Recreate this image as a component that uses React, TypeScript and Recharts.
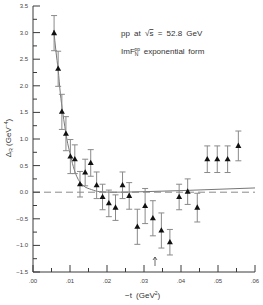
import React from 'react';
import { ComposedChart, Scatter, Line, XAxis, YAxis, ReferenceLine, ErrorBar } from 'recharts';

// measured points: -t (GeV^2), Delta_R (GeV^-4), error
const tValues = [0.0057, 0.0068, 0.0078, 0.0089, 0.0101, 0.0113, 0.0127, 0.0141, 0.0156, 0.0172, 0.0188, 0.0205, 0.0223, 0.0242, 0.026, 0.0282, 0.0303, 0.0324, 0.0347, 0.037, 0.0395, 0.0418, 0.0444, 0.0471, 0.0498, 0.0526, 0.0555];
const deltaValues = [2.99, 2.32, 1.51, 1.1, 0.67, 0.62, 0.15, 0.37, 0.55, 0.13, -0.09, -0.21, -0.29, 0.13, -0.07, -0.65, -0.26, -0.49, -0.72, -0.94, -0.09, 0.01, -0.29, 0.62, 0.62, 0.62, 0.87];
const errValues = [0.33, 0.33, 0.33, 0.32, 0.32, 0.27, 0.24, 0.25, 0.25, 0.25, 0.24, 0.25, 0.24, 0.25, 0.25, 0.33, 0.33, 0.33, 0.33, 0.24, 0.24, 0.24, 0.27, 0.25, 0.25, 0.25, 0.28];

// exponential-form curve
const fitT = [0.0056, 0.0062, 0.0068, 0.0074, 0.008, 0.0086, 0.0092, 0.01, 0.0109, 0.0118, 0.0135, 0.0158, 0.018, 0.022, 0.03, 0.04, 0.05, 0.06];
const fitDelta = [3.05, 2.65, 2.3, 1.85, 1.52, 1.23, 0.98, 0.73, 0.48, 0.3, 0.13, 0.05, 0.01, 0.0, 0.01, 0.03, 0.055, 0.08];

const xTicks = [0, 0.005, 0.01, 0.015, 0.02, 0.025, 0.03, 0.035, 0.04, 0.045, 0.05, 0.055, 0.06];
const xTickLabels: Record<string, string> = { '0': '.00', '0.01': '.01', '0.02': '.02', '0.03': '.03', '0.04': '.04', '0.05': '.05', '0.06': '.06' };
const yTicks = [-1.5, -1.25, -1, -0.75, -0.5, -0.25, 0, 0.25, 0.5, 0.75, 1, 1.25, 1.5, 1.75, 2, 2.25, 2.5, 2.75, 3, 3.25, 3.5];
const yTickLabels: Record<string, string> = { '-1.5': '−1.5', '-1': '−1.0', '-0.5': '−0.5', '0': '0.0', '0.5': '0.5', '1': '1.0', '1.5': '1.5', '2': '2.0', '2.5': '2.5', '3': '3.0', '3.5': '3.5' };

const points = tValues.map((t, i) => ({ t, v: deltaValues[i], err: errValues[i] }));
const fit = fitT.map((t, i) => ({ t, v: fitDelta[i] }));

const AXIS = '#3a3a3a';
const GRAY = '#8a8a8a';
const FONT = '"Liberation Sans", Arial, sans-serif';

const key = (v: number) => String(Math.round(v * 1000) / 1000);

const BottomTick = ({ x, y, payload }: any) => {
  const label = xTickLabels[key(payload.value)];
  const len = label ? 7 : 4;
  return (
    <g>
      <line x1={x} y1={y} x2={x} y2={y - len} stroke={AXIS} />
      {label && (
        <text x={x} y={y + 11} textAnchor="middle" fontSize={6} fill="#444" fontFamily={FONT}>{label}</text>
      )}
    </g>
  );
};

const TopTick = ({ x, y, payload }: any) => {
  const len = xTickLabels[key(payload.value)] ? 7 : 4;
  return <line x1={x} y1={y} x2={x} y2={y + len} stroke={AXIS} />;
};

const LeftTick = ({ x, y, payload }: any) => {
  const label = yTickLabels[key(payload.value)];
  const len = label ? 7 : 4;
  return (
    <g>
      <line x1={x} y1={y} x2={x + len} y2={y} stroke={AXIS} />
      {label && (
        <text x={x - 5} y={y + 2} textAnchor="end" fontSize={6} fill="#444" fontFamily={FONT}>{label}</text>
      )}
    </g>
  );
};

const RightTick = ({ x, y, payload }: any) => {
  const len = yTickLabels[key(payload.value)] ? 7 : 4;
  return <line x1={x} y1={y} x2={x - len} y2={y} stroke={AXIS} />;
};

const Triangle = ({ cx, cy }: any) => (
  <polygon points={`${cx},${cy - 3.3} ${cx - 3},${cy + 2} ${cx + 3},${cy + 2}`} fill="#111" />
);

export default function App() {
  return (
    <div style={{ position: 'absolute', left: 0, top: 0, width: 263, height: 305, background: '#fff' }}>
      <ComposedChart width={263} height={305} data={points} margin={{ top: 6, right: 8, bottom: 13, left: 5 }}>
        <XAxis
          xAxisId="b"
          dataKey="t"
          type="number"
          domain={[0, 0.06]}
          ticks={xTicks}
          allowDataOverflow
          height={20}
          tickSize={0}
          tickMargin={0}
          tickLine={false}
          stroke={AXIS}
          tick={<BottomTick />}
          interval={0}
        />
        <XAxis
          xAxisId="top"
          orientation="top"
          dataKey="t"
          type="number"
          domain={[0, 0.06]}
          ticks={xTicks}
          height={0}
          tickSize={0}
          tickMargin={0}
          tickLine={false}
          stroke={AXIS}
          tick={<TopTick />}
          interval={0}
        />
        <YAxis
          yAxisId="l"
          type="number"
          domain={[-1.5, 3.5]}
          ticks={yTicks}
          allowDataOverflow
          width={28}
          tickSize={0}
          tickMargin={0}
          tickLine={false}
          stroke={AXIS}
          tick={<LeftTick />}
          interval={0}
        />
        <YAxis
          yAxisId="r"
          orientation="right"
          type="number"
          domain={[-1.5, 3.5]}
          ticks={yTicks}
          width={0}
          tickSize={0}
          tickMargin={0}
          tickLine={false}
          stroke={AXIS}
          tick={<RightTick />}
          interval={0}
        />
        <ReferenceLine xAxisId="b" yAxisId="l" y={0} stroke={GRAY} strokeDasharray="7 4" />
        <Line
          xAxisId="b"
          yAxisId="l"
          data={fit}
          dataKey="v"
          type="monotone"
          stroke="#777"
          strokeWidth={1}
          dot={false}
          isAnimationActive={false}
        />
        <Scatter xAxisId="b" yAxisId="l" data={points} dataKey="v" shape={<Triangle />} isAnimationActive={false}>
          <ErrorBar dataKey="err" direction="y" width={3} stroke={GRAY} strokeWidth={1} isAnimationActive={false} />
        </Scatter>
      </ComposedChart>
      <svg width={263} height={305} style={{ position: 'absolute', left: 0, top: 0, pointerEvents: 'none' }} fontFamily={FONT} fill="#333">
        <text x={121} y={36} fontSize={8} wordSpacing={2}>
          pp at √<tspan style={{ textDecoration: 'overline' }}>s</tspan> = 52.8 GeV
        </text>
        <text x={121} y={54} fontSize={8} wordSpacing={1.5}>
          ImF<tspan fontSize={5} dy={2}>N</tspan><tspan fontSize={5} dy={-5} dx={-4}>pp</tspan><tspan dy={3}> exponential form</tspan>
        </text>
        <text transform="translate(11,138) rotate(-90)" textAnchor="middle" fontSize={8}>
          Δ<tspan fontSize={5} dy={2}>R</tspan><tspan dy={-2}> (GeV</tspan><tspan fontSize={5} dy={-3}>−4</tspan><tspan dy={3}>)</tspan>
        </text>
        <text x={125} y={298} fontSize={8} wordSpacing={2}>
          −t (GeV<tspan fontSize={5} dy={-3}>2</tspan><tspan dy={3}>)</tspan>
        </text>
        <path d="M155,266 L155,257 M153,260 L155,257 L157,260" stroke="#444" strokeWidth={0.8} fill="none" />
      </svg>
    </div>
  );
}
